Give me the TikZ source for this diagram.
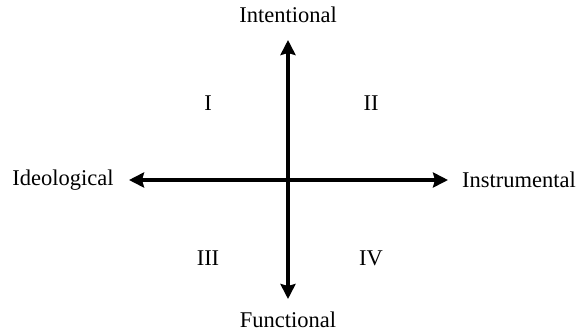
\documentclass[tikz,border=0pt]{standalone}
\usepackage{fontspec}
\setmainfont{Liberation Serif}
\usetikzlibrary{arrows.meta,positioning}
\tikzset{
  axislabel/.style={font=\fontsize{22.5}{26}\selectfont, inner sep=0pt},
  quadlabel/.style={font=\fontsize{22.5}{26}\selectfont, inner sep=0pt},
  axisarr/.style={{Stealth[length=15pt,width=15pt,inset=2pt]}-{Stealth[length=15pt,width=15pt,inset=2pt]},
    line width=4.5pt},
}

\begin{document}
\begin{tikzpicture}[x=1pt, y=-1pt]
  \useasboundingbox (0,0) rectangle (584,333);

  % axis ends
  \coordinate (top) at (288,40);
  \coordinate (bot) at (288,299);
  \coordinate (lft) at (129,180);
  \coordinate (rgt) at (448,180);

  % axes
  \draw[axisarr] (lft) -- (rgt);
  \draw[axisarr] (top) -- (bot);

  % axis labels
  \node[axislabel] (intent) at (288,15) {Intentional};
  \node[axislabel] (funct) at (288,320) {Functional};
  \node[axislabel] (ideo) at (63,180) {Ideological};
  \node[axislabel] (instr) at (519,180) {Instrumental};

  % quadrants
  \node[quadlabel] (q1) at (208,103) {I};
  \node[quadlabel] (q2) at (371,103) {II};
  \node[quadlabel] (q3) at (208,258) {III};
  \node[quadlabel] (q4) at (371,258) {IV};
\end{tikzpicture}
\end{document}
